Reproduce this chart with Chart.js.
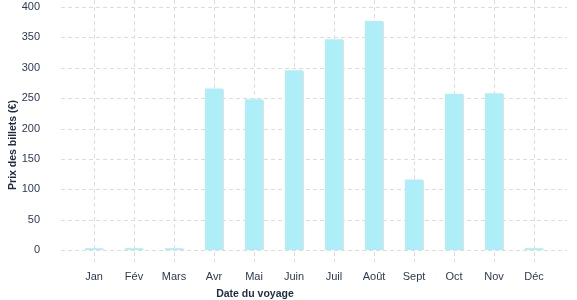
<!DOCTYPE html>
<html>
<head>
<meta charset="utf-8">
<script src="https://cdn.jsdelivr.net/npm/chart.js@4"></script>
<style>
  html, body { margin: 0; padding: 0; background: #fff; }
  #wrap { width: 577px; height: 300px; }
</style>
</head>
<body>
<div id="wrap"><canvas id="prix"></canvas></div>
<script>
const mois = ['Jan', 'Fév', 'Mars', 'Avr', 'Mai', 'Juin', 'Juil', 'Août', 'Sept', 'Oct', 'Nov', 'Déc'];
const prix = [3, 3, 3, 266, 248, 296, 347, 377, 116, 257, 258, 3];
const yTicks = [0, 50, 100, 150, 200, 250, 300, 350, 400];

const textColor = '#2b3a52';
const fontFamily = '"Liberation Sans", Arial, sans-serif';

// dashed grid drawn by hand so it can run past the chart area
const gridPlugin = {
    id: 'grille',
    beforeDatasetsDraw(chart) {
        const ctx = chart.ctx;
        const x = chart.scales.x;
        const y = chart.scales.y;
        const area = chart.chartArea;
        ctx.save();
        ctx.strokeStyle = '#dcdcdc';
        ctx.lineWidth = 1;
        ctx.setLineDash([4, 3]);
        y.ticks.forEach((t, i) => {
            const py = Math.round(y.getPixelForTick(i)) + 0.5;
            ctx.beginPath();
            ctx.moveTo(area.left - 13, py);
            ctx.lineTo(area.right + 13, py);
            ctx.stroke();
        });
        x.ticks.forEach((t, i) => {
            const px = Math.round(x.getPixelForTick(i)) + 0.5;
            ctx.beginPath();
            ctx.moveTo(px, 0);
            ctx.lineTo(px, area.bottom + 12);
            ctx.stroke();
        });
        ctx.restore();

        // light shadow behind the bars
        ctx.save();
        ctx.shadowColor = '#e0e0e0';
        ctx.shadowOffsetX = 1;
        ctx.shadowOffsetY = 1;
        ctx.shadowBlur = 0;
    },
    afterDatasetsDraw(chart) {
        chart.ctx.restore();
    },
    afterDraw(chart) {
        const ctx = chart.ctx;
        ctx.save();
        ctx.fillStyle = '#1e2b40';
        ctx.font = 'bold 10.5px ' + fontFamily;
        ctx.textAlign = 'center';
        ctx.textBaseline = 'middle';
        ctx.fillText('Date du voyage', 255, 294);
        ctx.translate(13, 145);
        ctx.rotate(-Math.PI / 2);
        ctx.fillText('Prix des billets (€)', 0, 0);
        ctx.restore();
    }
};

new Chart(document.getElementById('prix'), {
    type: 'bar',
    data: {
        labels: mois,
        datasets: [{
            label: 'Prix des billets (€)',
            data: prix,
            backgroundColor: '#aeeef9',
            borderWidth: 0,
            barPercentage: 0.45,
            categoryPercentage: 1
        }]
    },
    options: {
        responsive: true,
        maintainAspectRatio: false,
        animation: false,
        layout: { padding: { top: 7, right: 23, left: 0, bottom: 0 } },
        plugins: {
            legend: { display: false },
            tooltip: { enabled: false }
        },
        scales: {
            x: {
                grid: { display: false, drawTicks: false },
                border: { display: false },
                ticks: {
                    color: textColor,
                    font: { family: fontFamily, size: 11 },
                    padding: 20
                },
                afterFit(scale) { scale.height = 50; }
            },
            y: {
                min: 0,
                max: 400,
                afterBuildTicks(scale) { scale.ticks = yTicks.map(v => ({ value: v })); },
                grid: { display: false, drawTicks: true, tickLength: 34 },
                border: { display: false },
                ticks: {
                    color: textColor,
                    font: { family: fontFamily, size: 11 },
                    padding: 0
                },
                afterFit(scale) { scale.width = 74; }
            }
        }
    },
    plugins: [gridPlugin]
});
</script>
</body>
</html>
